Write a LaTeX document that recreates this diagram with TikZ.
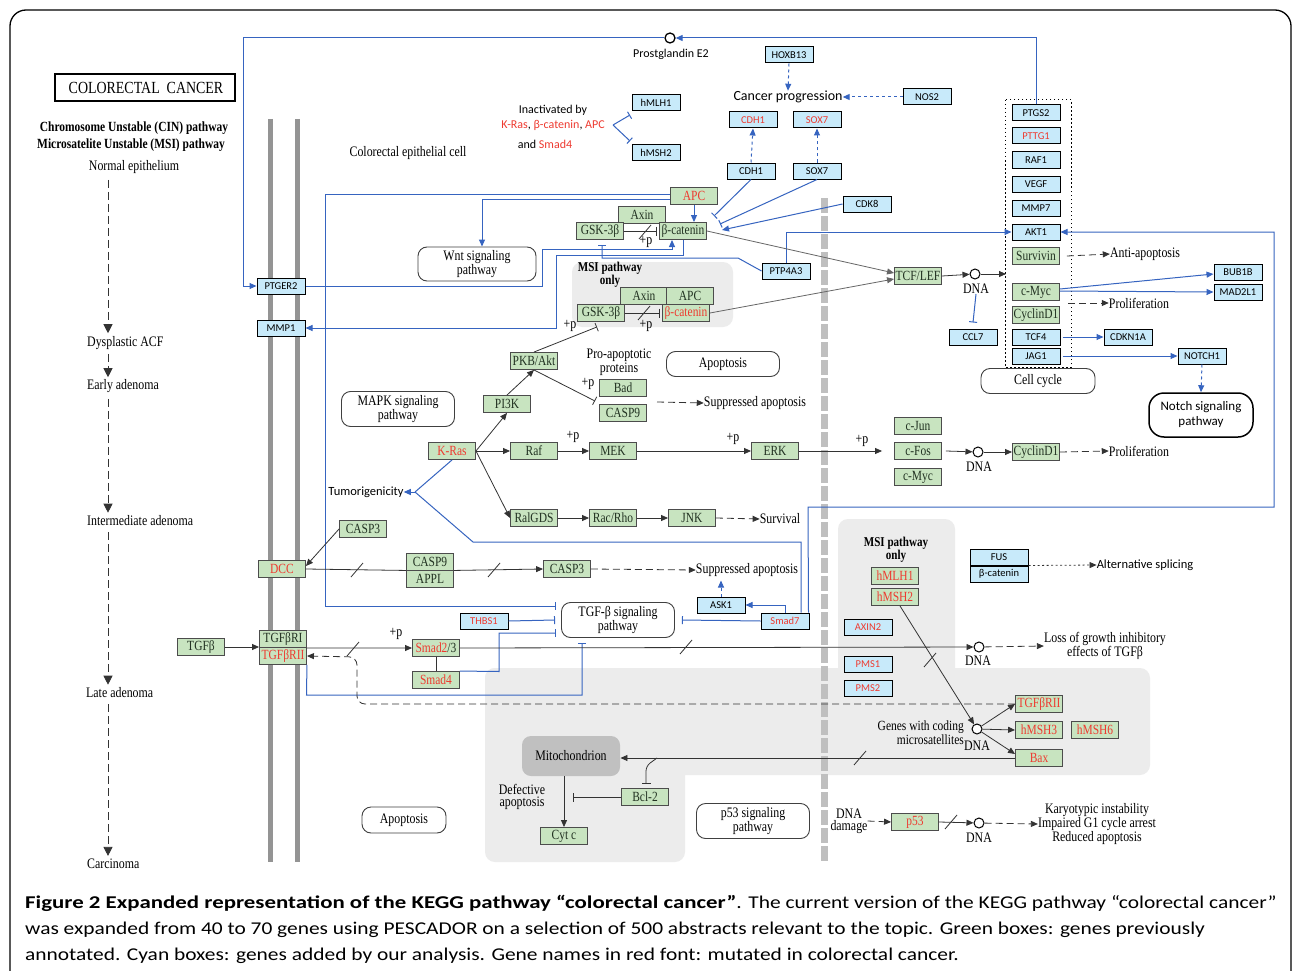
\documentclass[tikz,border=0pt]{standalone}
\usepackage{fontspec}
\setmainfont{Liberation Serif}
\newfontfamily\kegg[FakeStretch=0.82]{Liberation Serif}
\newfontfamily\calfont{Carlito}
\newfontfamily\capfont[FakeStretch=1.19]{Carlito}
\newfontfamily\capbold[FakeStretch=1.27]{Carlito}
\usetikzlibrary{arrows.meta}
\definecolor{kgreen}{RGB}{200,228,192}
\definecolor{kcyan}{RGB}{200,234,250}
\definecolor{kred}{RGB}{238,58,48}
\definecolor{kblue}{RGB}{54,100,192}
\definecolor{kgtxt}{RGB}{34,50,34}
\definecolor{karea}{RGB}{236,236,236}
\definecolor{kmito}{RGB}{192,192,192}
\newcommand\slashat[2]{\draw[kline] (#1-6,#2+7) -- (#1+6,#2-7);}
\begin{document}
\begin{tikzpicture}[x=1pt,y=-1pt,
gbox/.style={draw=black!70, line width=0.9pt, fill=kgreen, minimum width=47pt, minimum height=17pt, inner sep=0pt, text=kgtxt, font=\kegg\fontsize{14}{12}\selectfont},
rt/.style={text=kred},
cbox/.style={draw=black, line width=1pt, fill=kcyan, minimum width=48pt, minimum height=16pt, inner sep=0pt, font=\calfont\fontsize{10.5}{10}\selectfont},
pbox/.style={draw=black!75, line width=0.9pt, rounded corners=9pt, inner sep=0pt, align=center, font=\kegg\fontsize{14.5}{11.5}\selectfont},
txt/.style={inner sep=0pt, align=center, font=\kegg\fontsize{14.5}{12}\selectfont},
stxt/.style={inner sep=0pt, align=center, font=\calfont\fontsize{12}{13}\selectfont},
kline/.style={draw=black!80, line width=0.8pt},
arr/.style={draw=black!80, line width=0.8pt, -{Triangle[length=7pt,width=6pt]}},
darr/.style={arr, dash pattern=on 7pt off 4pt},
kinh/.style={draw=black!80, line width=0.8pt, -{Bar[width=9pt,line width=0.8pt]}},
barr/.style={draw=kblue, line width=1pt, -{Triangle[length=7pt,width=6pt]}},
bdot/.style={barr, dash pattern=on 3pt off 3pt},
binh/.style={draw=kblue, line width=1pt, -{Bar[width=8pt,line width=1pt]}},
bline/.style={draw=kblue, line width=1pt},
sdarr/.style={draw=black!80, line width=0.8pt, dash pattern=on 8pt off 4pt, -{Triangle[length=9pt,width=9pt]}},
dnac/.style={circle, draw=black, line width=1pt, fill=white, minimum size=10pt, inner sep=0pt},
captxt/.style={anchor=base west, inner sep=0pt, font=\capfont\fontsize{18}{18}\selectfont}
]
\useasboundingbox (0,0) rectangle (1293,971);
\fill[white] (0,0) rectangle (1293,971);
\draw[line width=1.3pt, rounded corners=16pt] (10,1010) -- (10,10) -- (1291,10) -- (1291,1010);

% grey areas
\fill[karea, rounded corners=10pt] (572,262) rectangle (733,327);
\fill[karea, rounded corners=10pt] (838,519) rectangle (955,690);
\fill[karea, rounded corners=10pt] (485,668) rectangle (1150,775);
\fill[karea, rounded corners=10pt] (485,668) rectangle (685,862);

% membrane and barrier
\draw[line width=5pt, black!42] (270,119) -- (270,862);
\draw[line width=5pt, black!42] (297,119) -- (297,862);
\draw[line width=7pt, black!25, dash pattern=on 15pt off 3pt] (824,198) -- (824,861);
\draw[line width=1pt, dash pattern=on 1.5pt off 2.5pt] (1005,100) rectangle (1071,367);

% title and left column
\draw[line width=2.2pt] (55,74) rectangle (235,101);
\node[txt, font=\kegg\fontsize{17}{17}\selectfont] (title) at (146,88) {COLORECTAL\ \ CANCER};
\node[txt, font=\kegg\bfseries\fontsize{14}{12}\selectfont] (cin) at (134,128) {Chromosome Unstable (CIN) pathway};
\node[txt, font=\kegg\bfseries\fontsize{14}{12}\selectfont] (msi) at (131,145) {Microsatelite Unstable (MSI) pathway};
\node[txt] (normal) at (134,167) {Normal epithelium};
\node[txt, anchor=west] (dys) at (87,343) {Dysplastic ACF};
\node[txt, anchor=west] (early) at (87,386) {Early adenoma};
\node[txt, anchor=west] (inter) at (87,521) {Intermediate adenoma};
\node[txt, anchor=west] (late) at (86,693) {Late adenoma};
\node[txt, anchor=west] (carc) at (87,864) {Carcinoma};
\coordinate (lx) at (108,0);
\draw[sdarr, shorten <=6pt, shorten >=3pt] (lx |- normal.south) -- (lx |- dys.north);
\draw[sdarr, shorten <=4pt, shorten >=2pt] (lx |- dys.south) -- (lx |- early.north);
\draw[sdarr, shorten <=6pt, shorten >=3pt] (lx |- early.south) -- (lx |- inter.north);
\draw[sdarr, shorten <=6pt, shorten >=3pt] (lx |- inter.south) -- (lx |- late.north);
\draw[sdarr, shorten <=6pt, shorten >=3pt] (lx |- late.south) -- (lx |- carc.north);
\node[txt] (cell) at (408,153) {Colorectal epithelial cell};

% cyan boxes
\node[cbox] (hoxb13) at (789,55) {HOXB13};
\node[cbox] (nos2) at (927,97) {NOS2};
\node[cbox,rt] (cdh1a) at (753,120) {CDH1};
\node[cbox,rt] (sox7a) at (817,120) {SOX7};
\node[cbox] (cdh1b) at (751,171) {CDH1};
\node[cbox] (sox7b) at (817,171) {SOX7};
\node[cbox] (hmlh1c) at (656,103) {hMLH1};
\node[cbox] (hmsh2c) at (656,153) {hMSH2};
\node[cbox] (cdk8) at (867,204) {CDK8};
\node[cbox] (ptp4a3) at (786,271) {PTP4A3};
\node[cbox] (ptger2) at (281,286) {PTGER2};
\node[cbox] (mmp1) at (281,328) {MMP1};
\node[cbox] (ptgs2) at (1036,113) {PTGS2};
\node[cbox,rt] (pttg1) at (1036,136) {PTTG1};
\node[cbox] (raf1) at (1036,160) {RAF1};
\node[cbox] (vegf) at (1036,184) {VEGF};
\node[cbox] (mmp7) at (1036,208) {MMP7};
\node[cbox] (akt1) at (1036,232) {AKT1};
\node[cbox] (tcf4) at (1036,337) {TCF4};
\node[cbox] (jag1) at (1036,356) {JAG1};
\node[cbox] (ccl7) at (973,337) {CCL7};
\node[cbox] (cdkn1a) at (1128,337) {CDKN1A};
\node[cbox] (notch1) at (1202,356) {NOTCH1};
\node[cbox] (bub1b) at (1238,272) {BUB1B};
\node[cbox] (mad2l1) at (1238,292) {MAD2L1};
\node[cbox] (ask1) at (721,605) {ASK1};
\node[cbox,rt] (smad7) at (785,621) {Smad7};
\node[cbox,rt] (thbs1) at (484,621) {THBS1};
\node[cbox,rt] (axin2) at (868,627) {AXIN2};
\node[cbox,rt] (pms1) at (868,664) {PMS1};
\node[cbox,rt] (pms2) at (868,688) {PMS2};
\node[cbox,minimum width=58pt] (fus) at (999,557) {FUS};
\node[cbox,minimum width=58pt] (bcatc) at (999,574) {β-catenin};

% green boxes
\node[gbox,rt] (apc) at (694,196) {APC};
\node[gbox] (axin) at (642,215) {Axin};
\node[gbox] (gsk) at (600,231) {GSK-3β};
\node[gbox] (bcat) at (683,231) {β-catenin};
\node[gbox] (axinm) at (644,296) {Axin};
\node[gbox] (apcm) at (690,296) {APC};
\node[gbox] (gsk2) at (601,313) {GSK-3β};
\node[gbox,rt] (bcat2) at (686,313) {β-catenin};
\node[gbox] (tcf) at (918,276) {TCF/LEF};
\node[gbox] (survivin) at (1036,256) {Survivin};
\node[gbox] (cmyc1) at (1036,292) {c-Myc};
\node[gbox] (ccnd1a) at (1036,315) {CyclinD1};
\node[gbox] (pkb) at (534,361) {PKB/Akt};
\node[gbox] (pi3k) at (507,404) {PI3K};
\node[gbox] (bad) at (623,388) {Bad};
\node[gbox] (casp9a) at (623,413) {CASP9};
\node[gbox,rt] (kras) at (452,451) {K-Ras};
\node[gbox] (raf) at (534,451) {Raf};
\node[gbox] (mek) at (613,451) {MEK};
\node[gbox] (erk) at (775,451) {ERK};
\node[gbox] (cjun) at (918,426) {c-Jun};
\node[gbox] (cfos) at (918,451) {c-Fos};
\node[gbox] (cmyc2) at (918,477) {c-Myc};
\node[gbox] (ccnd1b) at (1036,452) {CyclinD1};
\node[gbox] (ralgds) at (534,518) {RalGDS};
\node[gbox] (racrho) at (613,518) {Rac/Rho};
\node[gbox] (jnk) at (692,518) {JNK};
\node[gbox] (casp3a) at (363,529) {CASP3};
\node[gbox,rt] (dcc) at (282,569) {DCC};
\node[gbox] (casp9b) at (430,561.5) {CASP9};
\node[gbox] (appl) at (430,578.5) {APPL};
\node[gbox] (casp3b) at (567,569) {CASP3};
\node[gbox] (tgfb) at (201,647) {TGFβ};
\node[gbox] (tgfbr1) at (283,639) {TGFβRI};
\node[gbox,rt] (tgfbr2) at (283,656) {TGFβRII};
\node[gbox] (smad23) at (436,648) {{\color{kred}Smad2}/3};
\node[gbox,rt] (smad4) at (436,680) {Smad4};
\node[gbox,rt] (hmlh1) at (895,576) {hMLH1};
\node[gbox,rt] (hmsh2) at (895,597) {hMSH2};
\node[gbox,rt] (tgfbr2b) at (1039,704) {TGFβRII};
\node[gbox,rt] (hmsh3) at (1039,730) {hMSH3};
\node[gbox,rt] (hmsh6) at (1095,730) {hMSH6};
\node[gbox,rt] (bax) at (1039,758) {Bax};
\node[gbox] (bcl2) at (645,797) {Bcl-2};
\node[gbox] (cytc) at (564,836) {Cyt c};
\node[gbox,rt] (p53) at (915,822) {p53};

% pathway boxes
\node[pbox, minimum width=118pt, minimum height=34pt] (wnt) at (477,264) {Wnt signaling\\pathway};
\node[pbox, minimum width=113pt, minimum height=35pt] (mapk) at (398,409) {MAPK signaling\\pathway};
\node[pbox, minimum width=113pt, minimum height=25pt] (apop1) at (723,364) {Apoptosis};
\node[pbox, minimum width=114pt, minimum height=25pt] (cellcyc) at (1038,381) {Cell cycle};
\node[pbox, minimum width=104pt, minimum height=44pt, draw=black, line width=1.5pt, rounded corners=15pt, font=\calfont\fontsize{13}{15}\selectfont] (notch) at (1201,415) {Notch signaling\\pathway};
\node[pbox, minimum width=113pt, minimum height=35pt] (tgfp) at (618,620) {TGF-β signaling\\pathway};
\node[pbox, minimum width=84pt, minimum height=26pt] (apop2) at (404,820) {Apoptosis};
\node[pbox, minimum width=113pt, minimum height=35pt] (p53p) at (753,821) {p53 signaling\\pathway};
\node[pbox, draw=none, fill=kmito, minimum width=98pt, minimum height=40pt] (mito) at (571,756) {Mitochondrion};

% DNA circles
\node[dnac] (dna1) at (975,274) {};
\node[txt] (dnal1) at (976,289) {DNA};
\node[dnac] (dna2) at (978,452) {};
\node[txt] (dnal2) at (979,467) {DNA};
\node[dnac] (dna3) at (979,647) {};
\node[txt] (dnal3) at (978,661) {DNA};
\node[dnac] (dna4) at (977,729) {};
\node[txt] (dnal4) at (977,746) {DNA};
\node[dnac] (dna5) at (979,823) {};
\node[txt] (dnal5) at (979,838) {DNA};
\node[dnac, line width=1.3pt] (pge) at (670,38) {};

% free texts
\node[stxt, font=\calfont\fontsize{12}{12}\selectfont] (pgel) at (671,54) {Prostglandin E2};
\node[stxt, font=\calfont\fontsize{14}{14}\selectfont] (cprog) at (788,97) {Cancer progression};
\node[stxt] (inact1) at (553,110) {Inactivated by};
\node[stxt] (inact2) at (553,125) {{\color{kred}K-Ras}, {\color{kred}β-catenin}, {\color{kred}APC}};
\node[stxt] (inact3) at (545,144) {and {\color{kred}Smad4}};
\node[stxt, font=\calfont\fontsize{12.5}{13}\selectfont] (tumor) at (366,492) {Tumorigenicity};
\node[stxt, font=\calfont\fontsize{12.5}{13}\selectfont] (altspl) at (1145,565) {Alternative splicing};
\node[txt, font=\kegg\bfseries\fontsize{13.5}{10.5}\selectfont] (msi1) at (610,275) {MSI pathway\\only};
\node[txt, font=\kegg\bfseries\fontsize{13.5}{10.5}\selectfont] (msi2) at (896,550) {MSI pathway\\only};
\node[txt] (pp1) at (646,242) {+p};
\node[txt] (pp2) at (646,326) {+p};
\node[txt] (pp3) at (570,326) {+p};
\node[txt] (pp4) at (588,384) {+p};
\node[txt] (pp5) at (573,437) {+p};
\node[txt] (pp6) at (733,439) {+p};
\node[txt] (pp7) at (862,441) {+p};
\node[txt] (pp8) at (396,634) {+p};
\node[txt, font=\kegg\fontsize{14.5}{11}\selectfont] (proap) at (619,362) {Pro-apoptotic\\proteins};
\node[txt] (supp1) at (755,403) {Suppressed apoptosis};
\node[txt] (supp2) at (747,570) {Suppressed apoptosis};
\node[txt] (surv) at (780,519) {Survival};
\node[txt] (anti) at (1145,254) {Anti-apoptosis};
\node[txt] (prolif1) at (1139,303) {Proliferation};
\node[txt] (prolif2) at (1139,451) {Proliferation};
\node[txt] (loss) at (1105,646) {Loss of growth inhibitory\\effects of TGFβ};
\node[txt, align=right, anchor=east, font=\kegg\fontsize{14}{11.5}\selectfont] (genes) at (964,733) {Genes with coding\\microsatellites};
\node[txt] (defect) at (522,797) {Defective\\apoptosis};
\node[txt] (dnadam) at (849,821) {DNA\\damage};
\node[txt] (karyo) at (1097,824) {Karyotypic instability\\Impaired G1 cycle arrest\\Reduced apoptosis};

% ---- blue connectors
\draw[barr] (ptgs2.north) |- (pge.east);
\draw[barr] (pge.west) -- (243,38) |- (ptger2.west);
\draw[binh] ([yshift=2pt]apc.west) -- (325,194) -- (325,606) -- (556,606);
\draw[barr] ([yshift=-3pt]apc.west) -| ([xshift=5pt]wnt.north);
\draw[barr] (apc.south) -- (apc.south |- bcat.north);
\coordinate (bc1) at (714,216);
\coordinate (bc2) at (720,224);
\coordinate (bc3) at (722,230);
\draw[binh] (cdh1b.south) -- (bc1);
\draw[binh] (sox7b.south) -- (bc2);
\draw[barr] (cdk8.west) -- (bc3);
\draw[bdot] (cdh1b.north) -- (cdh1a.south);
\draw[bdot] (sox7b.north) -- (sox7a.south);
\draw[bdot] (hoxb13.south) -- (cprog.north);
\draw[bdot] (nos2.west) -- (cprog.east);
\draw[barr] (ptger2.east) -- (542,286) -- (542,249) -- (672,249) -- (672,240);
\draw[barr] (bcat.south) -- (683,255) -- (556,255) -- (556,328) -- (mmp1.east);
\draw[binh] (ptp4a3.west) -- (738,258) -- (602,258) -- (602,245);
\draw[barr] (ptp4a3.north) |- (akt1.west);
\draw[barr] ([xshift=-1pt]smad7.north east) -- (808,507) -- (1274,507) |- (akt1.east);
\coordinate (tj) at (415,492);
\draw[bline] ([xshift=16pt]smad7.north) -- (801,542) -- (473,542) -- (tj);
\draw[bline] (kras.south) -- (tj);
\draw[barr] (tj) -- (tumor.east);
\draw[barr] (smad7.north) |- (ask1.east);
\draw[bdot] (ask1.north) -- ++(0,-16);
\draw[binh] (smad7.west) -- ([xshift=7pt]tgfp.east);
\draw[binh] (thbs1.east) -- ([xshift=-6pt]tgfp.west);
\draw[binh] (smad4.north east) -- (499,671.5) -- (499,633) -- (556,633);
\draw[binh] (tgfbr2.south east) -- (306.5,695) -- (582,695) -- (582,643);
\coordinate (brk) at (613,125);
\draw[binh] (brk) -- (630,115);
\draw[binh] (brk) -- (630,141);
\draw[binh] (dnal1.south) -- ([yshift=6pt]ccl7.north);
\draw[barr] ([yshift=3pt]cmyc1.east) -- ([yshift=-2pt]bub1b.west);
\draw[barr] ([yshift=1pt]cmyc1.east) -- (mad2l1.west);
\draw[barr] ([xshift=2pt]tcf4.east) -- (cdkn1a.west);
\draw[barr] ([xshift=2pt]jag1.east) -- (notch1.west);
\draw[bdot] (notch1.south) -- (notch.north);

% ---- black connectors
\draw[kinh] (gsk.east) -- ([xshift=-2pt]bcat.west);
\slashat{645}{232}
\draw[kinh] (gsk2.east) -- ([xshift=-2pt]bcat2.west);
\slashat{644}{313}
\draw[arr, draw=black!60] (bcat.east) -- ([yshift=3pt]tcf.west);
\draw[arr, draw=black!60] (bcat2.east) -- ([yshift=-3pt]tcf.west);
\draw[arr] (tcf.east) -- (dna1);
\coordinate (dboxin) at (1006,274);
\draw[arr] (dna1) -- (dboxin);
\draw[darr] ([xshift=7pt]survivin.east) -- (anti.west);
\coordinate (p1s) at (1068,303);
\draw[darr] (p1s) -- (prolif1.west);
\draw[arr] (kras.east) -- (pi3k.south);
\draw[arr] (pi3k.north) -- (pkb.south);
\draw[kinh] (pkb.south) -- (595,401);
\draw[kinh] (pkb.north) -- ([xshift=-4pt,yshift=-5pt]gsk2.south);
\draw[arr] (kras.east) -- (raf.west);
\draw[arr] (raf.east) -- (mek.west);
\draw[arr] (mek.east) -- (erk.west);
\draw[arr] (erk.east) -- ([xshift=-12pt]cfos.west);
\draw[arr] (kras.east) -- (ralgds.west);
\draw[arr] (ralgds.east) -- (racrho.west);
\draw[arr] (racrho.east) -- (jnk.west);
\draw[darr] (jnk.east) -- (surv.west);
\coordinate (sa1s) at (657,402);
\draw[darr] (sa1s) -- (supp1.west);
\draw[arr] ([xshift=4pt]cfos.east) -- (dna2);
\draw[arr] (dna2) -- (ccnd1b.west);
\draw[darr] (ccnd1b.east) -- (prolif2.west);
\draw[arr] (casp3a.west) -- ([yshift=3pt]dcc.east);
\draw[kline] (dcc.east) -- (casp9b.south west);
\slashat{357}{570}
\draw[arr] (casp9b.south east) -- (casp3b.west);
\slashat{494}{570}
\draw[darr] (casp3b.east) -- (supp2.west);
\draw[arr] (tgfb.east) -- (tgfb.east -| tgfbr1.west);
\draw[arr] (tgfbr1.south east) -- (smad23.west);
\slashat{353}{649}
\draw[kline] (smad23.south) -- (smad4.north);
\draw[arr] (smad23.east) -- (dna3);
\slashat{686}{647}
\draw[darr] (dna3) -- (loss.west);
\draw[darr, rounded corners=8pt] (tgfbr2b.west) -- (357,704) -- (357,657) -- (tgfbr2.east);
\draw[arr] ([xshift=5pt]hmsh2.south) -- (dna4);
\slashat{930}{660}
\draw[arr] (dna4) -- (tgfbr2b.west);
\draw[arr] (dna4) -- (hmsh3.west);
\draw[arr] (dna4) -- ([yshift=4pt]bax.west);
\draw[arr] (bax.west) -- (bax.west -| mito.east);
\slashat{860}{758}
\draw[kinh, rounded corners=5pt] (657,758) -- (646,766) -- (646,784);
\draw[kinh] (bcl2.west) -- (573,797);
\draw[arr] (cytc.north |- mito.south) -- (cytc.north);
\draw[darr] (dnadam.east) -- (p53.west);
\draw[arr] (p53.east) -- (dna5);
\slashat{951}{822}
\draw[darr] (dna5) -- (karyo.west);
\draw[arr, dash pattern=on 2pt off 2.5pt] (fus.south east) -- (altspl.west);

% caption
\node[captxt] (cap1) at (25,908) {{\capbold\bfseries Figure 2 Expanded representation of the KEGG pathway “colorectal cancer”}. The current version of the KEGG pathway “colorectal cancer”};
\node[captxt] (cap2) at (25,934) {was expanded from 40 to 70 genes using PESCADOR on a selection of 500 abstracts relevant to the topic. Green boxes: genes previously};
\node[captxt] (cap3) at (25,960) {annotated. Cyan boxes: genes added by our analysis. Gene names in red font: mutated in colorectal cancer.};
\end{tikzpicture}
\end{document}
